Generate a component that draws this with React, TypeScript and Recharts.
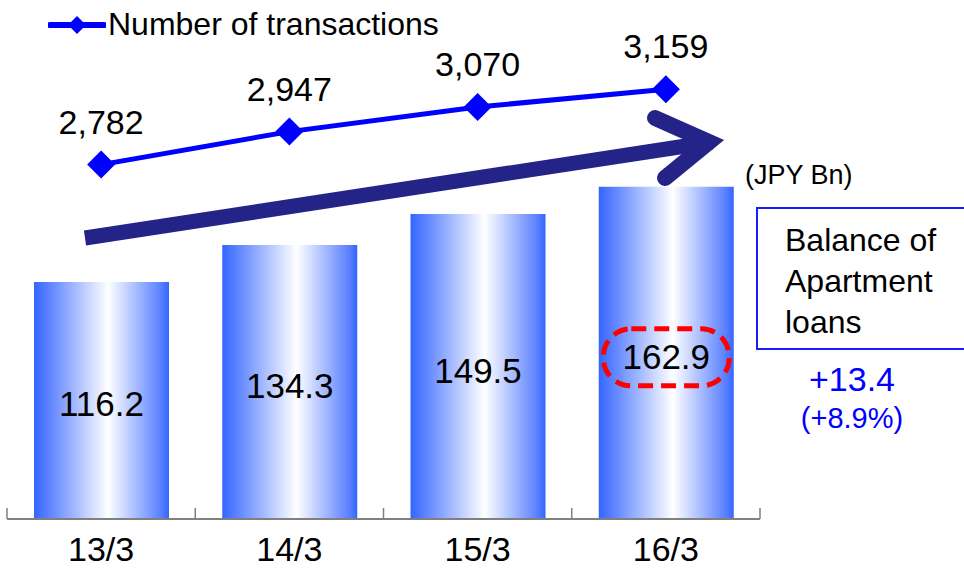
import { ComposedChart, Bar, Line, XAxis, YAxis, LabelList, Legend } from 'recharts';

const periods = ['13/3', '14/3', '15/3', '16/3'];
const balance = [116.2, 134.3, 149.5, 162.9];
const transactions = [2782, 2947, 3070, 3159];

const data = periods.map((p, i) => ({ period: p, balance: balance[i], transactions: transactions[i] }));

const FONT = '"Liberation Sans", Arial, sans-serif';
const BLUE = '#0000FF';

const Diamond = (props: any) => {
  const { cx, cy } = props;
  if (cx == null || cy == null) return null;
  const r = 14;
  return <path d={`M${cx},${cy - r}L${cx + r},${cy}L${cx},${cy + r}L${cx - r},${cy}Z`} fill={BLUE} />;
};

const XTick = (props: any) => {
  const { x, y, payload, index, visibleTicksCount } = props;
  const half = payload.offset ?? 94;
  return (
    <g>
      <line x1={x - half} x2={x - half} y1={y} y2={y - 11} stroke="#808080" strokeWidth={1.5} />
      {index === visibleTicksCount - 1 && (
        <line x1={x + half} x2={x + half} y1={y} y2={y - 11} stroke="#808080" strokeWidth={1.5} />
      )}
      <text x={x} y={y + 42} textAnchor="middle" fontSize={34} fontFamily={FONT} fill="#000">
        {payload.value}
      </text>
    </g>
  );
};

const BarValue = (props: any) => {
  const { x, y, width, height, value, index } = props;
  const cx = x + width / 2;
  const cy = y + height / 2 + 4;
  return (
    <g>
      {index === balance.length - 1 && (
        <rect x={cx - 63} y={cy - 28} width={126} height={57} rx={28} ry={28}
          fill="none" stroke="#FF0000" strokeWidth={5} strokeDasharray="15 8" />
      )}
      <text x={cx} y={cy + 12} textAnchor="middle" fontSize={35} fontFamily={FONT} fill="#000">
        {value.toFixed(1)}
      </text>
    </g>
  );
};

const CountValue = (props: any) => {
  const { x, y, value } = props;
  return (
    <text x={x} y={y - 31} textAnchor="middle" fontSize={34} fontFamily={FONT} fill="#000">
      {Number(value).toLocaleString('en-US')}
    </text>
  );
};

const LegendContent = () => (
  <div style={{ display: 'flex', alignItems: 'center', fontFamily: FONT, fontSize: 32, whiteSpace: 'nowrap' }}>
    <svg width={58} height={20}>
      <line x1={2} x2={56} y1={10} y2={10} stroke={BLUE} strokeWidth={6} strokeLinecap="round" />
      <path d="M29,1L38,10L29,19L20,10Z" fill={BLUE} />
    </svg>
    <span style={{ marginLeft: 2 }}>Number of transactions</span>
  </div>
);

export default function App() {
  return (
    <div style={{ position: 'absolute', left: 0, top: 0, width: 964, height: 569, background: '#fff' }}>
      <ComposedChart width={964} height={569} data={data} margin={{ top: 9, right: 204, left: 7, bottom: 0 }}>
        <defs>
          <linearGradient id="barGrad" x1="0" y1="0" x2="1" y2="0">
            <stop offset="0%" stopColor="#3366FF" />
            <stop offset="6%" stopColor="#4A75FF" />
            <stop offset="55%" stopColor="#FFFFFF" />
            <stop offset="94%" stopColor="#5A80FF" />
            <stop offset="100%" stopColor="#3366FF" />
          </linearGradient>
        </defs>
        <XAxis dataKey="period" height={50} tickSize={0} tickMargin={0} interval={0}
          axisLine={{ stroke: '#808080', strokeWidth: 2 }} tickLine={false} tick={<XTick />} />
        <YAxis yAxisId="bal" hide domain={[0, 250]} />
        <YAxis yAxisId="cnt" hide domain={[1010, 3560]} />
        <Legend layout="vertical" align="center" verticalAlign="middle"
          wrapperStyle={{ top: 6, left: 48, width: 420 }} content={<LegendContent />} />
        <Bar yAxisId="bal" dataKey="balance" barSize={135} fill="url(#barGrad)" isAnimationActive={false}>
          <LabelList dataKey="balance" content={<BarValue />} />
        </Bar>
        <Line yAxisId="cnt" dataKey="transactions" type="linear" stroke={BLUE} strokeWidth={5}
          dot={<Diamond />} activeDot={false} isAnimationActive={false}>
          <LabelList dataKey="transactions" content={<CountValue />} />
        </Line>
      </ComposedChart>
      <svg width={964} height={569} style={{ position: 'absolute', left: 0, top: 0, pointerEvents: 'none' }}>
        <line x1={85} y1={238} x2={712} y2={142} stroke="#232388" strokeWidth={15} />
        <path d="M655,118 L709,142 L665,178" fill="none" stroke="#232388" strokeWidth={16}
          strokeLinecap="round" strokeLinejoin="miter" />
        <text x={745} y={184} fontSize={27} fontFamily={FONT} fill="#000">(JPY Bn)</text>
        <rect x={757} y={208} width={230} height={141} fill="none" stroke="#1A1AFF" strokeWidth={2} />
        <text fontSize={32} fontFamily={FONT} fill="#000">
          <tspan x={785} y={251}>Balance of</tspan>
          <tspan x={785} y={292}>Apartment</tspan>
          <tspan x={785} y={333}>loans</tspan>
        </text>
        <text x={852} y={391} textAnchor="middle" fontSize={34} fontFamily={FONT} fill={BLUE}>+13.4</text>
        <text x={852} y={428} textAnchor="middle" fontSize={29} fontFamily={FONT} fill={BLUE}>(+8.9%)</text>
      </svg>
    </div>
  );
}
